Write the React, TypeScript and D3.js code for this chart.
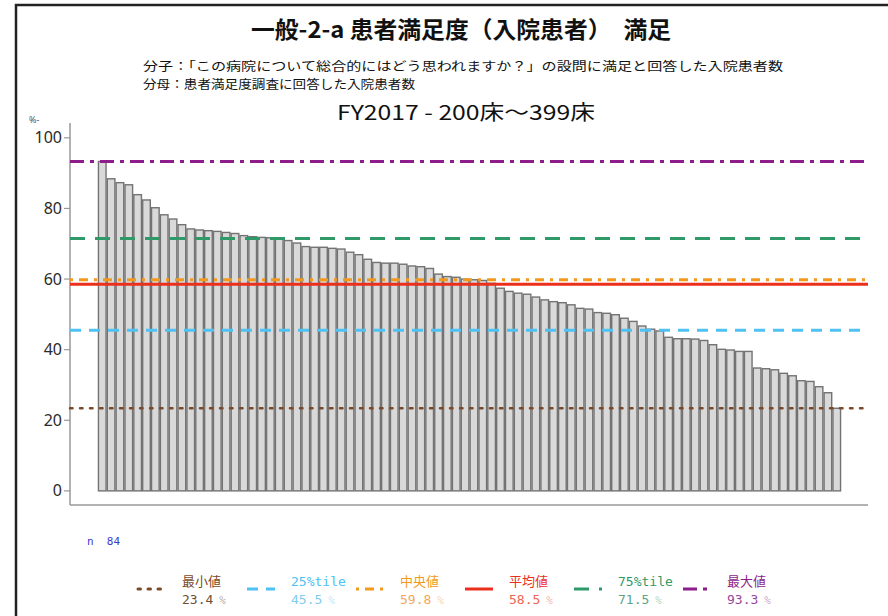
import React, { useRef, useEffect } from 'react';
import * as d3 from 'd3';

// bar values (%), sorted high -> low, one per hospital
const values = [
  93.3, 88.4, 87.3, 86.7, 83.9, 82.4, 80.2, 78.2, 77.0, 75.4,
  74.2, 73.9, 73.7, 73.5, 73.2, 72.9, 72.3, 72.0, 71.8, 71.7,
  71.6, 70.9, 70.2, 69.2, 69.0, 69.0, 68.7, 68.5, 67.6, 66.9,
  65.6, 64.7, 64.5, 64.5, 64.2, 63.7, 63.5, 63.0, 61.4, 60.7,
  60.5, 60.0, 59.8, 59.6, 58.8, 57.4, 56.5, 56.0, 55.7, 54.9,
  54.1, 53.6, 53.3, 52.7, 51.7, 51.5, 50.5, 50.3, 49.9, 48.9,
  48.0, 46.7, 45.8, 45.3, 43.5, 43.1, 43.1, 43.0, 42.6, 41.4,
  40.1, 39.9, 39.5, 39.5, 34.8, 34.6, 34.3, 33.3, 32.6, 31.2,
  31.0, 29.5, 27.8, 23.4,
];

const yTicks = [0, 20, 40, 60, 80, 100];

// summary lines: label, value, colours, dash pattern
const statNames = ['最小値', '25%tile', '中央値', '平均値', '75%tile', '最大値'];
const statValues = [23.4, 45.5, 59.8, 58.5, 71.5, 93.3];
const statColors = ['#7a4a28', '#4fc1f2', '#f39a1c', '#ec2f1c', '#2f9a68', '#8c1d8a'];
const statValueColors = ['#6e5038', '#7fcdee', '#f4a85a', '#ef6455', '#5ea584', '#96459a'];
const statDashes = ['2.5,7.5', '11,8', '3,6,9,6', null, '15,10', '14,6,4,6'];

const title = '一般-2-a 患者満足度（入院患者）　満足';
const subtitle1 = '分子：「この病院について総合的にはどう思われますか？」の設問に満足と回答した入院患者数';
const subtitle2 = '分母：患者満足度調査に回答した入院患者数';
const subTitle3 = 'FY2017 - 200床～399床';

export default function App() {
  const svgRef = useRef<SVGSVGElement | null>(null);

  useEffect(() => {
    const width = 888;
    const height = 616;
    const plot = { left: 70, right: 868, top: 123, bottom: 505 };

    d3.select(svgRef.current).selectAll('*').remove();

    const svg = d3
      .select(svgRef.current)
      .attr('width', width)
      .attr('height', height);

    svg.append('rect')
      .attr('x', 0)
      .attr('y', 0)
      .attr('width', width)
      .attr('height', height)
      .attr('fill', 'white');

    // outer frame (only left/top visible)
    svg.append('rect')
      .attr('x', 16)
      .attr('y', 5)
      .attr('width', 920)
      .attr('height', 700)
      .attr('fill', 'none')
      .attr('stroke', '#222')
      .attr('stroke-width', 2.5);

    const cjk = "'Noto Sans CJK JP', 'Noto Sans', sans-serif";

    svg.append('text')
      .attr('x', 461)
      .attr('y', 38)
      .attr('text-anchor', 'middle')
      .attr('font-family', cjk)
      .attr('font-weight', 'bold')
      .attr('font-size', 23)
      .attr('fill', '#111')
      .attr('textLength', 420)
      .attr('lengthAdjust', 'spacingAndGlyphs')
      .text(title);

    svg.append('text')
      .attr('x', 143)
      .attr('y', 71)
      .attr('font-family', cjk)
      .attr('font-size', 12)
      .attr('fill', '#111')
      .attr('textLength', 640)
      .attr('lengthAdjust', 'spacingAndGlyphs')
      .text(subtitle1);

    svg.append('text')
      .attr('x', 143)
      .attr('y', 88.5)
      .attr('font-family', cjk)
      .attr('font-size', 12)
      .attr('fill', '#111')
      .attr('textLength', 272)
      .attr('lengthAdjust', 'spacingAndGlyphs')
      .text(subtitle2);

    svg.append('text')
      .attr('x', 466)
      .attr('y', 120)
      .attr('text-anchor', 'middle')
      .attr('font-family', cjk)
      .attr('font-size', 20)
      .attr('fill', '#111')
      .attr('xml:space', 'preserve')
      .attr('textLength', 258)
      .attr('lengthAdjust', 'spacingAndGlyphs')
      .text(subTitle3);

    const yScale = d3
      .scaleLinear()
      .domain([-4, 104.2])
      .range([plot.bottom, plot.top]);

    const xScale = d3
      .scaleBand<number>()
      .domain(values.map((_, i) => i))
      .range([98, 841])
      .paddingInner(0.14)
      .paddingOuter(0.05);

    // axes
    svg.append('line')
      .attr('x1', plot.left)
      .attr('x2', plot.left)
      .attr('y1', plot.top)
      .attr('y2', plot.bottom)
      .attr('stroke', '#999')
      .attr('stroke-width', 1.5);

    svg.append('line')
      .attr('x1', plot.left)
      .attr('x2', plot.right)
      .attr('y1', plot.bottom)
      .attr('y2', plot.bottom)
      .attr('stroke', '#999')
      .attr('stroke-width', 1.5);

    yTicks.forEach((t) => {
      const y = yScale(t);
      svg.append('line')
        .attr('x1', plot.left - 6)
        .attr('x2', plot.left)
        .attr('y1', y)
        .attr('y2', y)
        .attr('stroke', '#999')
        .attr('stroke-width', 1.2);
      svg.append('text')
        .attr('x', plot.left - 8)
        .attr('y', y + 5.5)
        .attr('text-anchor', 'end')
        .attr('font-family', "'Liberation Sans Narrow', 'Noto Sans', sans-serif")
        .attr('font-size', 16)
        .attr('fill', '#2a2a2a')
        .text(t);
    });

    svg.append('text')
      .attr('x', 29)
      .attr('y', 123)
      .attr('font-family', "'Noto Sans', sans-serif")
      .attr('font-size', 9)
      .attr('fill', '#555')
      .text('%-');

    // bars
    values.forEach((v, i) => {
      svg.append('rect')
        .attr('x', xScale(i)!)
        .attr('y', yScale(v))
        .attr('width', xScale.bandwidth())
        .attr('height', yScale(0) - yScale(v))
        .attr('fill', '#d9d9d9')
        .attr('stroke', '#737373')
        .attr('stroke-width', 1.4);
    });

    // summary reference lines
    statValues.forEach((v, i) => {
      const line = svg.append('line')
        .attr('x1', plot.left)
        .attr('x2', plot.right)
        .attr('y1', yScale(v))
        .attr('y2', yScale(v))
        .attr('stroke', statColors[i])
        .attr('stroke-width', i === 0 ? 2.5 : 3);
      if (statDashes[i]) line.attr('stroke-dasharray', statDashes[i]);
      if (i === 0) line.attr('stroke-linecap', 'round');
    });

    svg.append('text')
      .attr('x', 87)
      .attr('y', 545)
      .attr('font-family', "'DejaVu Sans Mono', monospace")
      .attr('font-size', 11)
      .attr('fill', '#3a3ad0')
      .attr('xml:space', 'preserve')
      .text('n  84');

    // legend
    const legendFont = "'DejaVu Sans Mono', 'Noto Sans CJK JP', monospace";
    statNames.forEach((name, i) => {
      const tx = 182 + i * 109;
      const sample = svg.append('line')
        .attr('x1', tx - 44)
        .attr('x2', tx - 16)
        .attr('y1', 589)
        .attr('y2', 589)
        .attr('stroke', statColors[i])
        .attr('stroke-width', 3);
      if (statDashes[i]) sample.attr('stroke-dasharray', statDashes[i]);
      if (i === 0) sample.attr('stroke-linecap', 'round');

      svg.append('text')
        .attr('x', tx)
        .attr('y', 586)
        .attr('font-family', legendFont)
        .attr('font-size', 13)
        .attr('fill', statColors[i])
        .text(name);

      const val = svg.append('text')
        .attr('x', tx)
        .attr('y', 604)
        .attr('font-family', legendFont)
        .attr('font-size', 13)
        .attr('fill', statValueColors[i]);
      val.append('tspan').text(statValues[i].toFixed(1));
      val.append('tspan')
        .attr('dx', 6)
        .attr('font-size', 11)
        .attr('fill-opacity', 0.5)
        .text('%');
    });
  }, []);

  return <svg ref={svgRef} style={{ position: 'absolute', left: 0, top: 0 }}></svg>;
}
